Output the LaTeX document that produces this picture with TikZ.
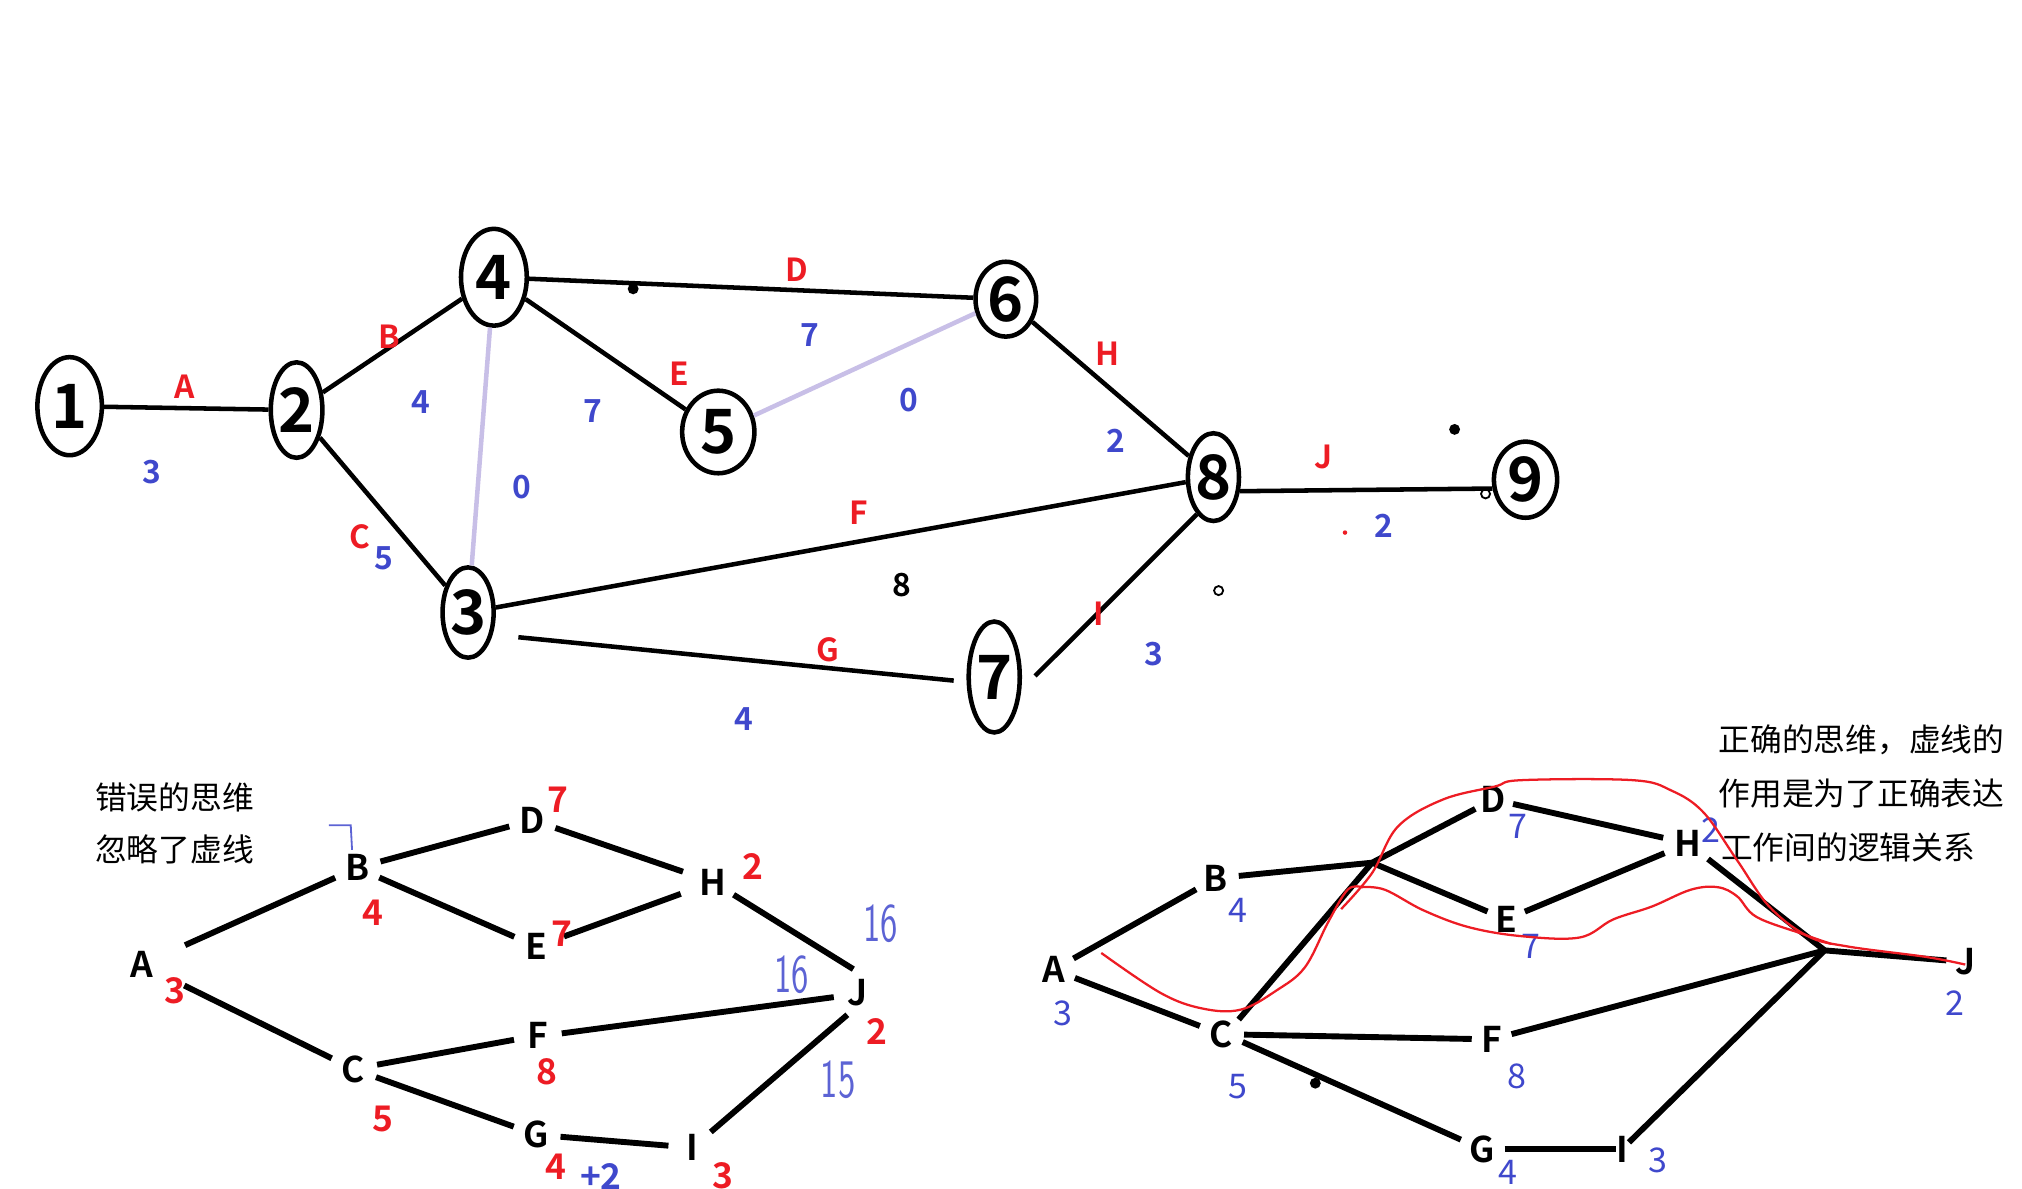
\documentclass[tikz,border=0pt]{standalone}
\usepackage{fontspec}
\setmainfont{Noto Sans CJK SC}[BoldFont={Noto Sans CJK SC Bold}]
\usepackage{xcolor}
\usepackage{tikz}
\usetikzlibrary{shapes.geometric}

\definecolor{pred}{RGB}{237,28,36}
\definecolor{pblue}{RGB}{63,72,204}
\definecolor{plav}{RGB}{200,191,231}

\begin{document}
\begin{tikzpicture}[x=0.01cm, y=-0.01cm,
  ev/.style={draw, ellipse, line width=1pt, inner sep=0pt, font=\fontsize{13.5}{13.5}\selectfont\bfseries},
  act/.style={line width=1pt},
  dum/.style={line width=1pt, plav},
  lab/.style={text=pred, font=\fontsize{7}{7}\selectfont\bfseries},
  dur/.style={text=pblue, font=\fontsize{7}{7}\selectfont\bfseries},
  job/.style={circle, inner sep=0pt, minimum size=0.36cm, font=\fontsize{7.8}{7.8}\selectfont\bfseries},
  wl/.style={line width=1.3pt},
  num/.style={text=pred, font=\fontsize{7.8}{7.8}\selectfont\bfseries},
  bnum/.style={text=pblue, font=\fontsize{7.5}{7.5}\selectfont},
  note/.style={anchor=west, inner sep=0pt, font=\fontsize{7}{7}\selectfont},
  hand/.style={text=pblue!85, xscale=0.65, font=\sffamily\fontsize{12}{12}\selectfont},
  redpath/.style={pred, line width=0.5pt}]
  \useasboundingbox (0,0) rectangle (1568,922);

  % Event nodes (top network)
  \node[ev, minimum width=0.50cm, minimum height=0.76cm] (n1) at (54,315) {1};
  \node[ev, minimum width=0.40cm, minimum height=0.74cm] (n2) at (230,318) {2};
  \node[ev, minimum width=0.51cm, minimum height=0.75cm] (n4) at (383,215) {4};
  \node[ev, minimum width=0.56cm, minimum height=0.64cm] (n5) at (557,335) {5};
  \node[ev, minimum width=0.47cm, minimum height=0.58cm] (n6) at (780,232) {6};
  \node[ev, minimum width=0.36cm, minimum height=0.70cm] (n3) at (363,475) {3};
  \node[ev, minimum width=0.36cm, minimum height=0.86cm] (n7) at (771,525) {7};
  \node[ev, minimum width=0.37cm, minimum height=0.68cm] (n8) at (941,370) {8};
  \node[ev, minimum width=0.49cm, minimum height=0.59cm] (n9) at (1183,372) {9};

  % Activities
  \draw[act] (n1) -- (n2);
  \draw[act] (n2) -- (n4);
  \draw[act] (n2) -- (n3);
  \draw[dum] (n4) -- (n3);
  \draw[act] (n4) -- (n6);
  \draw[act] (n4) -- (n5);
  \draw[dum] (n5) -- (n6);
  \draw[act] (n6) -- (n8);
  \draw[act] (n3) -- (n8);
  \draw[act, shorten <=0.2cm, shorten >=0.1cm] (n3.-42) -- (n7.190);
  \draw[act, shorten <=0.15cm] (n7.-25) -- (n8.-114);
  \draw[act] (n8.-28) -- (n9.-165);

  % Activity names and durations
  \node[lab] (lA) at (143,300) {A};  \node[dur] (dA) at (118,366) {3};
  \node[lab] (lB) at (302,261) {B};  \node[dur] (dB) at (326,312) {4};
  \node[lab] (lC) at (279,416) {C};  \node[dur] (dC) at (298,433) {5};
  \node[dur] (d43) at (405,378) {0};
  \node[lab] (lD) at (618,209) {D};  \node[dur] (dD) at (628,260) {7};
  \node[lab] (lE) at (527,290) {E};  \node[dur] (dE) at (460,319) {7};
  \node[dur] (d56) at (705,310) {0};
  \node[lab] (lH) at (859,274) {H};  \node[dur] (dH) at (865,342) {2};
  \node[lab] (lF) at (666,398) {F};  \node[font=\fontsize{7}{7}\selectfont\bfseries] (dF) at (699,454) {8};
  \node[lab] (lG) at (642,504) {G};  \node[dur] (dG) at (577,558) {4};
  \node[lab] (lI) at (852,476) {I};  \node[dur] (dI) at (895,507) {3};
  \node[lab] (lJ) at (1026,354) {J}; \node[dur] (dJ) at (1073,408) {2};

  % stray specks
  \fill (491,224) circle (1.2pt);
  \fill (1128,333) circle (1.2pt);
  \draw[line width=0.4pt] (945,458) circle (1pt);
  \draw[line width=0.4pt] (1152,383) circle (1pt);
  \fill[pred] (1043,413) circle (0.5pt);
  \fill (1020,840) circle (1.2pt);

  % Wrong way of thinking
  \node[note] (wt1) at (73,618) {错误的思维};
  \node[note] (wt2) at (73,659) {忽略了虚线};

  \node[job] (wA) at (110,748) {A};
  \node[job] (wB) at (277,673) {B};
  \node[job] (wC) at (274,829) {C};
  \node[job] (wD) at (413,636) {D};
  \node[job] (wE) at (416,734) {E};
  \node[job] (wF) at (417,803) {F};
  \node[job] (wG) at (416,880) {G};
  \node[job] (wH) at (553,684) {H};
  \node[job] (wI) at (537,890) {I};
  \node[job] (wJ) at (665,770) {J};

  \draw[wl, shorten <=0.18cm] (wA) -- (wB);
  \draw[wl, shorten <=0.18cm] (wA) -- (wC);
  \draw[wl] (wB) -- (wD);
  \draw[wl] (wB) -- (wE);
  \draw[wl, shorten >=0.06cm] (wD) -- (wH);
  \draw[wl, shorten <=0.04cm, shorten >=0.08cm] (wE) -- (wH);
  \draw[wl] (wH) -- (wJ.100);
  \draw[wl] (wC) -- (wF);
  \draw[wl] (wF.5) -- (wJ.190);
  \draw[wl] (wC) -- (wG);
  \draw[wl] (wG) -- (wI);
  \draw[wl] (wJ.-115) -- (wI);

  \node[num] (w3) at (136,768) {3};
  \node[num] (w4) at (289,708) {4};
  \node[num] (w7a) at (433,620) {7};
  \node[num] (w7b) at (436,724) {7};
  \node[num] (w2a) at (584,672) {2};
  \node[num] (w2b) at (680,800) {2};
  \node[num] (w8) at (424,831) {8};
  \node[num] (w5) at (297,868) {5};
  \node[num] (w4b) at (431,905) {4};
  \node[text=pblue, font=\fontsize{7.8}{7.8}\selectfont\bfseries] (wp2) at (466,912) {+2};
  \node[num] (w3b) at (561,912) {3};

  % pen marks
  \draw[pblue!85, line width=0.4pt] (255,640) -- (272,640) -- (273,659);
  \node[hand] (h1) at (683,716) {16};
  \node[hand] (h2) at (614,756) {16};
  \node[hand] (h3) at (650,837) {15};

  % Right way of thinking
  \node[note] (rt1) at (1332,574) {正确的思维，虚线的};
  \node[note] (rt2) at (1332,615) {作用是为了正确表达};
  \node[note] (rt3) at (1334,657) {工作间的逻辑关系};

  \node[job, minimum size=0.34cm] (rA) at (817,752) {A};
  \node[job, minimum size=0.34cm] (rB) at (943,681) {B};
  \node[job, minimum size=0.34cm] (rC) at (947,802) {C};
  \node[job, minimum size=0.30cm] (rD) at (1158,620) {D};
  \node[job, minimum size=0.30cm] (rE) at (1168,713) {E};
  \node[job, minimum size=0.30cm] (rF) at (1157,806) {F};
  \node[job, minimum size=0.34cm] (rG) at (1149,891) {G};
  \node[job, minimum size=0.38cm] (rH) at (1309,654) {H};
  \node[job, rectangle, minimum size=0pt] (rI) at (1258,891) {I};
  \node[job, minimum size=0.28cm] (rJ) at (1524,746) {J};
  \coordinate (rX) at (1064,669);
  \coordinate (rY) at (1415,737);

  \draw[wl] (rA) -- (rB);
  \draw[wl] (rA) -- (rC);
  \draw[wl] (rB) -- (rX);
  \draw[wl] (rX) -- (rD);
  \draw[wl] (rX) -- (rE);
  \draw[wl] (rC.40) -- (rX);
  \draw[wl] (rD) -- (rH);
  \draw[wl] (rE) -- (rH);
  \draw[wl] (rH) -- (rY);
  \draw[wl] (rY) -- (rJ);
  \draw[wl] (rF) -- (rY);
  \draw[wl] (rC) -- (rF);
  \draw[wl] (rC.-20) -- (rG);
  \draw[wl] (rG) -- (rI);
  \draw[wl] (rI) -- (rY);

  \node[bnum] (r3) at (824,786) {3};
  \node[bnum] (r4) at (960,706) {4};
  \node[bnum] (r5) at (960,843) {5};
  \node[bnum] (r7a) at (1177,641) {7};
  \node[bnum] (r7b) at (1187,734) {7};
  \node[bnum] (r8) at (1176,835) {8};
  \node[bnum] (r4b) at (1169,909) {4};
  \node[bnum] (r3b) at (1286,900) {3};
  \node[bnum] (r2a) at (1327,644) {2};
  \node[bnum] (r2b) at (1516,778) {2};

  % critical path sketch
  \draw[redpath] plot[smooth, tension=0.6] coordinates {(854,739) (900,770) (932,782) (962,783) (990,768) (1012,750) (1030,715) (1045,690) (1056,688)};
  \draw[redpath] plot[smooth, tension=0.6] coordinates {(1040,705) (1064,677) (1084,641) (1119,620) (1159,610) (1180,605) (1266,605) (1296,613) (1321,630) (1347,667) (1372,703) (1402,726) (1433,734) (1493,742) (1524,748)};
  \draw[redpath] plot[smooth, tension=0.6] coordinates {(1056,688) (1074,690) (1104,706) (1139,719) (1180,726) (1225,727) (1251,713) (1281,703) (1311,690) (1332,688) (1347,695) (1362,711) (1397,724) (1420,732)};
\end{tikzpicture}
\end{document}
